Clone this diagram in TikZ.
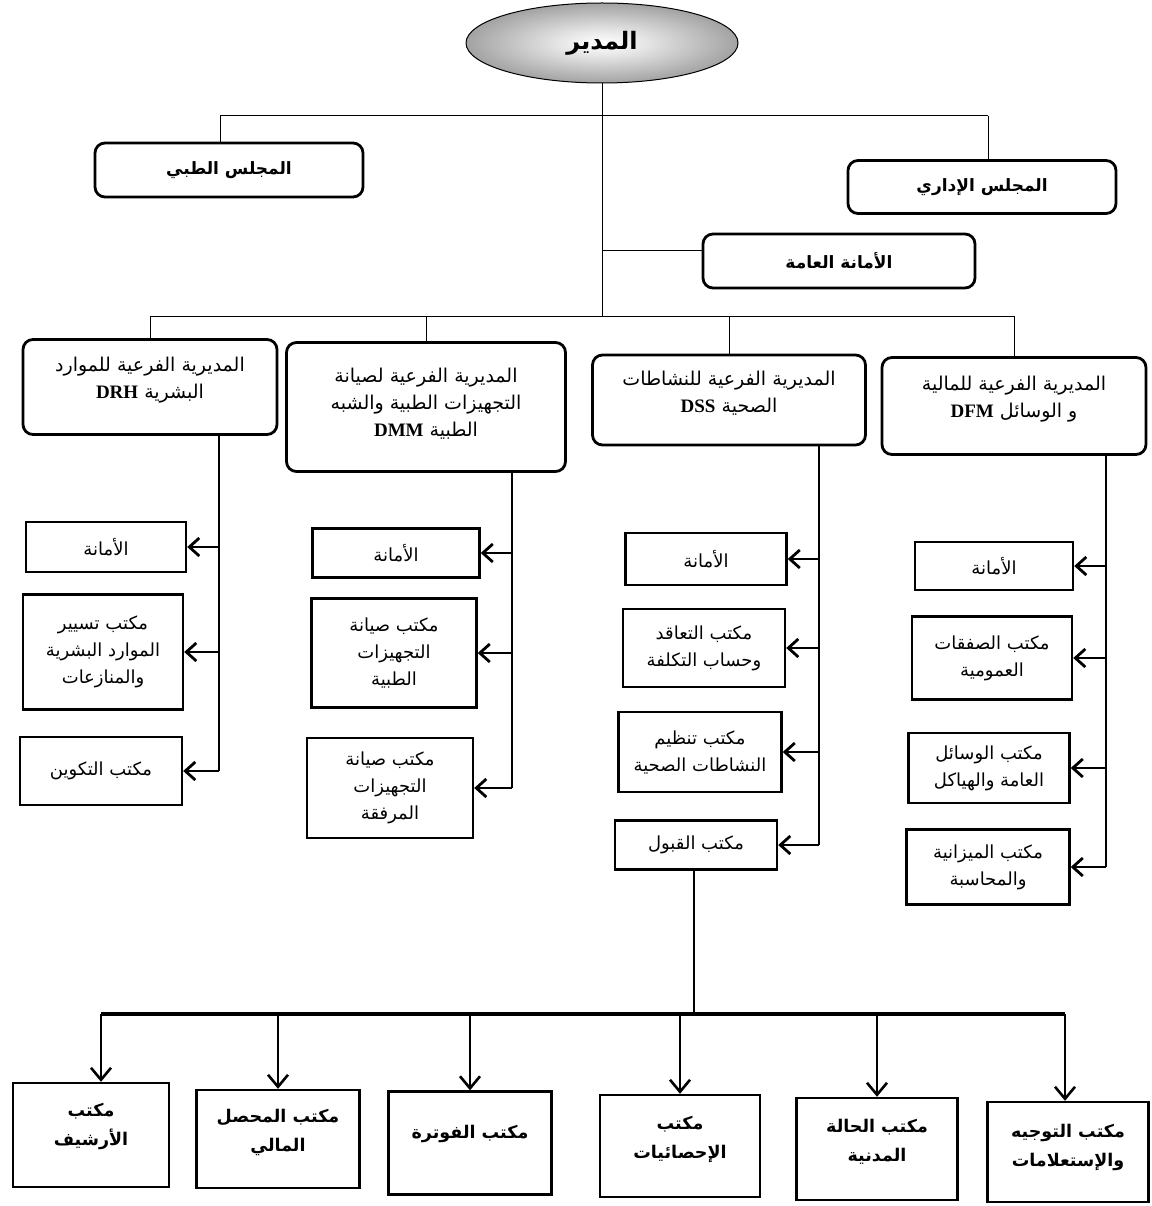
\documentclass[tikz,border=0pt]{standalone}
\usepackage{fontspec}
\newfontfamily\arabicfont[Script=Arabic]{DejaVu Sans}
\newfontfamily\latinserif{Liberation Serif}
\TeXXeTstate=1
\usetikzlibrary{arrows.meta,shapes.geometric}
\newcommand\arline[1]{\beginR#1\endR}
\newcommand\lt[1]{{\latinserif\bfseries\fontsize{19}{27}\selectfont #1}}
\newcommand\liftup[2]{\raisebox{#1}[\height][\depth]{\begin{tabular}{@{}c@{}}#2\end{tabular}}}
\pgfdeclareradialshading{dirshade}{\pgfpoint{0bp}{0bp}}{color(0bp)=(white); color(8bp)=(white!90!black); color(50bp)=(black!75); color(51bp)=(black!75)}
\begin{document}
\begin{tikzpicture}[x=1pt,y=-1pt,
  conn/.style={line width=1pt},
  col/.style={line width=2.4pt},
  larr/.style={line width=2.4pt,-{Straight Barb[length=10pt,width=18pt,line width=2.8pt]}},
  darr/.style={line width=1.8pt,-{Straight Barb[length=12pt,width=20pt,line width=2.6pt]}},
  rbox/.style={draw,line width=2.8pt,rounded corners=10pt,align=center,inner sep=4pt,font=\arabicfont\fontsize{19}{27}\selectfont},
  tbox/.style={rbox,font=\arabicfont\bfseries\fontsize{17}{27}\selectfont},
  sbox/.style={draw,line width=2.4pt,align=center,inner sep=3pt,font=\arabicfont\fontsize{18}{27}\selectfont},
  bbox/.style={sbox,font=\arabicfont\bfseries\fontsize{17.5}{29}\selectfont},
]
\fill[white] (0,0) rectangle (1151,1206);
\useasboundingbox (0,0) rectangle (1151,1206);

% top level
\node[ellipse,draw,line width=1pt,shading=dirshade,minimum width=272pt,minimum height=80pt,font=\arabicfont\bfseries\fontsize{24}{28}\selectfont] (dir) at (602,43) {\arline{المدير}};
\node[tbox,minimum width=268pt,minimum height=54pt] (med) at (229,170) {\arline{المجلس الطبي}};
\node[tbox,minimum width=268pt,minimum height=53pt] (adm) at (982,187) {\arline{المجلس الإداري}};
\node[tbox,minimum width=272pt,minimum height=54pt] (sec) at (839,261) {\arline{الأمانة العامة}};

% sub-directorates
\node[rbox,minimum width=254pt,minimum height=95pt] (drh) at (150,387) {\liftup{7pt}{\arline{المديرية الفرعية للموارد}\\\arline{البشرية \lt{DRH}}}};
\node[rbox,minimum width=279pt,minimum height=129pt] (dmm) at (426,407) {\liftup{3pt}{\arline{المديرية الفرعية لصيانة}\\\arline{التجهيزات الطبية والشبه}\\\arline{الطبية \lt{DMM}}}};
\node[rbox,minimum width=273pt,minimum height=90pt] (dss) at (729,400) {\liftup{6pt}{\arline{المديرية الفرعية للنشاطات}\\\arline{الصحية \lt{DSS}}}};
\node[rbox,minimum width=264pt,minimum height=97pt] (dfm) at (1014,406) {\liftup{7pt}{\arline{المديرية الفرعية للمالية}\\\arline{و الوسائل \lt{DFM}}}};

% DRH column
\node[sbox,minimum width=160pt,minimum height=50pt] (r1) at (106,547) {\arline{الأمانة}};
\node[sbox,minimum width=160pt,minimum height=115pt] (r2) at (103,652) {\arline{مكتب تسيير}\\\arline{الموارد البشرية}\\\arline{والمنازعات}};
\node[sbox,minimum width=162pt,minimum height=68pt] (r3) at (101,771) {\arline{مكتب التكوين}};
% DMM column
\node[sbox,minimum width=167pt,minimum height=49pt] (m1) at (396,553) {\arline{الأمانة}};
\node[sbox,minimum width=165pt,minimum height=109pt] (m2) at (394,653) {\arline{مكتب صيانة}\\\arline{التجهيزات}\\\arline{الطبية}};
\node[sbox,minimum width=166pt,minimum height=100pt] (m3) at (390,788) {\arline{مكتب صيانة}\\\arline{التجهيزات}\\\arline{المرفقة}};
% DSS column
\node[sbox,minimum width=161pt,minimum height=52pt] (s1) at (706,559) {\arline{الأمانة}};
\node[sbox,minimum width=162pt,minimum height=78pt] (s2) at (704,648) {\arline{مكتب التعاقد}\\\arline{وحساب التكلفة}};
\node[sbox,minimum width=163pt,minimum height=80pt] (s3) at (700,752) {\arline{مكتب تنظيم}\\\arline{النشاطات الصحية}};
\node[sbox,minimum width=162pt,minimum height=49pt] (s4) at (696,845) {\arline{مكتب القبول}};
% DFM column
\node[sbox,minimum width=158pt,minimum height=48pt] (f1) at (994,566) {\arline{الأمانة}};
\node[sbox,minimum width=160pt,minimum height=83pt] (f2) at (992,658) {\arline{مكتب الصفقات}\\\arline{العمومية}};
\node[sbox,minimum width=161pt,minimum height=70pt] (f3) at (989,768) {\arline{مكتب الوسائل}\\\arline{العامة والهياكل}};
\node[sbox,minimum width=163pt,minimum height=75pt] (f4) at (988,867) {\arline{مكتب الميزانية}\\\arline{والمحاسبة}};

% bottom row
\node[bbox,minimum width=156pt,minimum height=104pt] (b1) at (91,1135) {\liftup{10pt}{\arline{مكتب}\\\arline{الأرشيف}}};
\node[bbox,minimum width=163pt,minimum height=98pt] (b2) at (278,1139) {\liftup{8pt}{\arline{مكتب المحصل}\\\arline{المالي}}};
\node[bbox,minimum width=163pt,minimum height=103pt] (b3) at (470,1143) {\liftup{10pt}{\arline{مكتب الفوترة}}};
\node[bbox,minimum width=160pt,minimum height=102pt] (b4) at (680,1146) {\liftup{8pt}{\arline{مكتب}\\\arline{الإحصائيات}}};
\node[bbox,minimum width=161pt,minimum height=102pt] (b5) at (877,1149) {\liftup{8pt}{\arline{مكتب الحالة}\\\arline{المدنية}}};
\node[bbox,minimum width=161pt,minimum height=100pt] (b6) at (1068,1152) {\liftup{6pt}{\arline{مكتب التوجيه}\\\arline{والإستعلامات}}};

% top connectors
\coordinate (t1) at (602,116);
\coordinate (t2) at (602,250);
\coordinate (t3) at (602,316);
\coordinate (hl) at (220,116);
\coordinate (hr) at (988,116);
\draw[conn] (dir.south) -- (t3);
\draw[conn] (hl) -- (hr);
\draw[conn] (hl) -- (hl |- med.north);
\draw[conn] (hr) -- (hr |- adm.north);
\draw[conn] (t2) -- (t2 -| sec.west);
\draw[conn] (drh.north |- t3) -- (dfm.north |- t3);
\foreach \n in {drh,dmm,dss,dfm}{\draw[conn] (\n.north |- t3) -- (\n.north);}

% column spines
\coordinate (c1) at (219,0);
\coordinate (c2) at (512,0);
\coordinate (c3) at (819,0);
\coordinate (c4) at (1106,0);
\draw[col] (drh.south -| c1) -- (r3.east -| c1);
\draw[col] (dmm.south -| c2) -- (m3.east -| c2);
\draw[col] (dss.south -| c3) -- (s4.east -| c3);
\draw[col] (dfm.south -| c4) -- (f4.east -| c4);
\foreach \b in {r1,r2,r3}{\draw[larr] (\b.east -| c1) -- (\b.east);}
\foreach \b in {m1,m2,m3}{\draw[larr] (\b.east -| c2) -- (\b.east);}
\foreach \b in {s1,s2,s3,s4}{\draw[larr] (\b.east -| c3) -- (\b.east);}
\foreach \b in {f1,f2,f3,f4}{\draw[larr] (\b.east -| c4) -- (\b.east);}

% bottom distribution
\coordinate (bj) at (694,1014);
\coordinate (a1) at (101,1014);
\coordinate (a6) at (1065,1014);
\draw[col] (s4.south -| bj) -- (bj);
\draw[line width=3.5pt] (a1) -- (a6);
\draw[darr] (a1) -- (a1 |- b1.north);
\foreach \b in {b2,b3,b4,b5}{\draw[darr] (\b.north |- a1) -- (\b.north);}
\draw[darr] (a6) -- (a6 |- b6.north);
\end{tikzpicture}
\end{document}
